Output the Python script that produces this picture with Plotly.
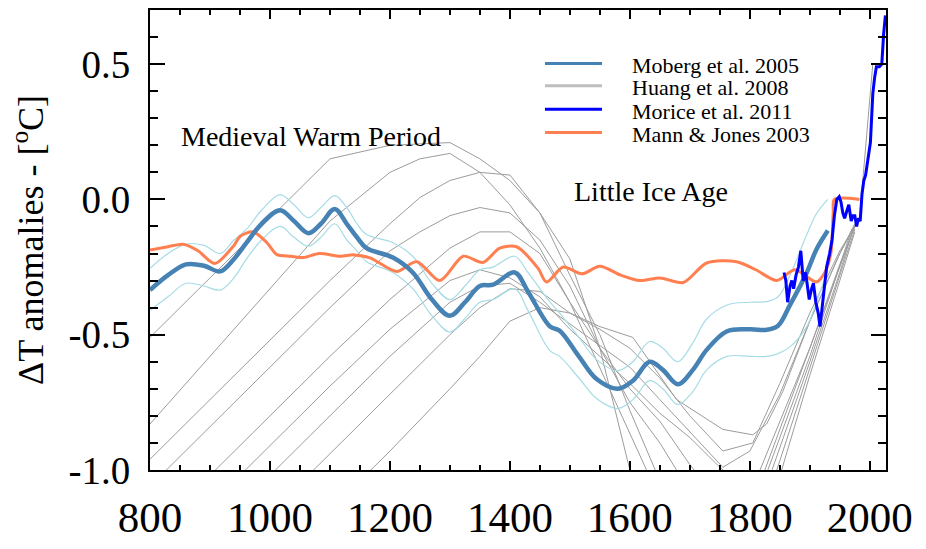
import plotly.graph_objects as go

# ---------------- data ----------------
# Moberg et al. 2005 reconstruction with its upper / lower envelope
moberg_years = [800, 830, 860, 890, 917, 940, 961, 986, 1017, 1040, 1064, 1085, 1108, 1128,
                1145, 1161, 1205, 1238, 1270, 1300, 1325, 1350, 1372, 1408, 1430, 1467, 1483,
                1515, 1545, 1580, 1605, 1633, 1655, 1680, 1705, 1728, 1762, 1800, 1828, 1847,
                1867, 1895, 1911, 1930]
moberg_mean = [-0.335, -0.28, -0.24, -0.245, -0.266, -0.22, -0.16, -0.09, -0.04, -0.08, -0.125,
               -0.09, -0.035, -0.09, -0.14, -0.18, -0.215, -0.27, -0.37, -0.43, -0.38, -0.32,
               -0.315, -0.27, -0.34, -0.47, -0.485, -0.58, -0.665, -0.70, -0.67, -0.60, -0.63,
               -0.683, -0.63, -0.556, -0.487, -0.48, -0.482, -0.467, -0.39, -0.27, -0.185, -0.115]
moberg_upper = [-0.255, -0.20, -0.165, -0.17, -0.20, -0.15, -0.11, -0.04, 0.018, -0.02, -0.068,
                -0.03, 0.014, -0.03, -0.09, -0.13, -0.16, -0.21, -0.31, -0.37, -0.32, -0.26,
                -0.25, -0.21, -0.27, -0.38, -0.42, -0.51, -0.593, -0.633, -0.60, -0.525, -0.55,
                -0.60, -0.53, -0.442, -0.39, -0.38, -0.378, -0.36, -0.28, -0.13, -0.053, 0.0]
moberg_lower = [-0.41, -0.36, -0.31, -0.32, -0.335, -0.29, -0.22, -0.15, -0.10, -0.14, -0.173,
                -0.14, -0.09, -0.15, -0.19, -0.23, -0.27, -0.33, -0.43, -0.49, -0.44, -0.38,
                -0.37, -0.33, -0.41, -0.56, -0.58, -0.66, -0.737, -0.773, -0.74, -0.67, -0.70,
                -0.758, -0.71, -0.63, -0.58, -0.58, -0.58, -0.57, -0.545, -0.47, -0.38, -0.26]

# Mann & Jones 2003
mann_years = [800, 830, 855, 880, 908, 940, 950, 972, 995, 1011, 1035, 1056, 1082, 1117, 1140,
              1167, 1211, 1245, 1283, 1322, 1355, 1383, 1411, 1447, 1461, 1489, 1520, 1550,
              1585, 1617, 1650, 1689, 1728, 1778, 1810, 1845, 1875, 1911, 1925, 1935, 1939,
              1941, 1983]
mann_temp = [-0.187, -0.175, -0.166, -0.19, -0.237, -0.17, -0.137, -0.12, -0.16, -0.203, -0.21,
             -0.215, -0.20, -0.21, -0.205, -0.216, -0.266, -0.23, -0.30, -0.21, -0.233, -0.18,
             -0.175, -0.255, -0.305, -0.25, -0.275, -0.247, -0.28, -0.30, -0.29, -0.307, -0.235,
             -0.23, -0.26, -0.30, -0.26, -0.305, -0.27, -0.20, -0.05, 0.0, 0.0]

# Morice et al. 2011 (instrumental)
morice_years = [1857, 1860, 1863, 1867, 1870, 1873, 1877, 1881, 1885, 1889, 1893, 1899, 1903,
                1906, 1910, 1914, 1917, 1921, 1925, 1928, 1933, 1937, 1941, 1945, 1949, 1952,
                1955, 1958, 1962, 1965, 1969, 1972, 1975, 1978, 1981, 1984, 1987, 1990, 1993,
                1997, 2001, 2003, 2005, 2008, 2011, 2016, 2020, 2023, 2026]
morice_temp = [-0.27, -0.30, -0.38, -0.32, -0.30, -0.33, -0.28, -0.25, -0.19, -0.30, -0.27,
               -0.37, -0.33, -0.31, -0.38, -0.42, -0.47, -0.38, -0.30, -0.25, -0.20, -0.15,
               -0.06, 0.0, 0.01, -0.01, -0.05, -0.07, -0.04, -0.02, -0.08, -0.06, -0.06, -0.10,
               -0.07, -0.08, 0.02, 0.07, 0.09, 0.15, 0.21, 0.30, 0.39, 0.45, 0.49, 0.49, 0.50,
               0.61, 0.68]

# Huang et al. 2008 borehole profiles
huang_years = [
    [800, 900, 1000, 1100, 1200, 1300, 1350, 1400, 1450, 1500, 1550, 1600, 1650, 1700, 1750, 1817, 1900, 1950, 1975],
    [800, 900, 1000, 1100, 1200, 1250, 1300, 1350, 1400, 1450, 1500, 1550, 1600, 1650, 1700, 1750, 1825, 1900, 1950, 1975],
    [800, 900, 1000, 1100, 1200, 1250, 1300, 1350, 1400, 1450, 1500, 1550, 1600, 1650, 1700, 1750, 1830, 1900, 1950, 1970],
    [800, 900, 1000, 1100, 1200, 1250, 1300, 1350, 1400, 1450, 1500, 1550, 1600, 1650, 1700, 1750, 1837, 1900, 1950, 1975],
    [850, 900, 1000, 1100, 1200, 1300, 1350, 1400, 1450, 1500, 1550, 1600, 1650, 1700, 1750, 1800, 1845, 1900, 1950, 1975],
    [900, 1000, 1100, 1200, 1300, 1350, 1400, 1450, 1500, 1550, 1600, 1650, 1700, 1750, 1800, 1853, 1900, 1950, 1975],
    [950, 1000, 1100, 1200, 1300, 1350, 1400, 1450, 1500, 1550, 1600, 1650, 1700, 1755, 1800, 1850, 1900, 1950, 1975],
    [1050, 1100, 1200, 1300, 1350, 1400, 1450, 1500, 1550, 1600, 1650, 1700, 1755, 1805, 1850, 1900, 1950, 1975],
    [1150, 1200, 1300, 1350, 1400, 1450, 1500, 1550, 1605, 1678, 1755, 1805, 1828, 1855, 1900, 1950, 1983, 2005],
]
huang_temps = [
    [-0.51, -0.29, -0.07, 0.15, 0.20, 0.21, 0.15, 0.07, -0.05, -0.22, -0.55, -1.00, -1.35, -1.55, -1.45, -1.00, -0.55, -0.25, -0.10],
    [-0.83, -0.58, -0.33, -0.08, 0.10, 0.15, 0.17, 0.10, -0.02, -0.18, -0.38, -0.62, -0.86, -1.10, -1.35, -1.40, -1.00, -0.55, -0.24, -0.10],
    [-0.96, -0.74, -0.52, -0.30, -0.09, 0.007, 0.07, 0.10, 0.09, -0.05, -0.28, -0.50, -0.78, -1.05, -1.30, -1.35, -1.00, -0.58, -0.25, -0.11],
    [-1.06, -0.84, -0.62, -0.40, -0.19, -0.12, -0.06, -0.03, -0.05, -0.15, -0.32, -0.55, -0.75, -0.90, -1.08, -1.25, -1.00, -0.60, -0.27, -0.09],
    [-1.13, -1.02, -0.80, -0.58, -0.37, -0.18, -0.12, -0.12, -0.20, -0.38, -0.55, -0.70, -0.82, -0.98, -1.12, -1.20, -1.00, -0.62, -0.28, -0.11],
    [-1.13, -0.91, -0.69, -0.48, -0.30, -0.26, -0.29, -0.36, -0.48, -0.58, -0.68, -0.79, -0.88, -0.99, -1.08, -1.00, -0.65, -0.30, -0.12],
    [-1.13, -1.02, -0.80, -0.58, -0.38, -0.32, -0.31, -0.38, -0.46, -0.54, -0.62, -0.74, -0.86, -0.99, -0.93, -0.72, -0.45, -0.20, -0.09],
    [-1.05, -0.94, -0.72, -0.50, -0.40, -0.33, -0.34, -0.42, -0.48, -0.55, -0.66, -0.80, -0.93, -0.90, -0.68, -0.42, -0.19, -0.10],
    [-1.04, -0.93, -0.70, -0.58, -0.45, -0.40, -0.42, -0.47, -0.51, -0.74, -0.85, -0.87, -0.83, -0.71, -0.45, -0.20, -0.065, 0.50],
]

series_names = ["Moberg et al. 2005", "Huang et al. 2008", "Morice et al. 2011", "Mann & Jones 2003"]
series_colors = ["#4682B4", "#BEBEBE", "#0000FF", "#FF7F50"]

y_tick_values = [-1.0, -0.5, 0.0, 0.5]
y_tick_labels = ["-1.0", "-0.5", "0.0", "0.5"]

# ---------------- figure ----------------
SERIF = "Liberation Serif, Times New Roman, serif"
GRAY = "#9C9C9C"
BAND = "#A6DCE6"

fig = go.Figure()

for yrs, vals in zip(huang_years, huang_temps):
    fig.add_trace(go.Scatter(x=yrs, y=vals, mode="lines", showlegend=False,
                             line=dict(color=GRAY, width=1), hoverinfo="skip"))

for band in (moberg_upper, moberg_lower):
    fig.add_trace(go.Scatter(x=moberg_years, y=band, mode="lines", showlegend=False,
                             line=dict(color=BAND, width=1.2, shape="spline", smoothing=1.0)))

fig.add_trace(go.Scatter(x=mann_years, y=mann_temp, mode="lines", name=series_names[3],
                         showlegend=False,
                         line=dict(color=series_colors[3], width=3, shape="spline", smoothing=0.8)))

fig.add_trace(go.Scatter(x=moberg_years, y=moberg_mean, mode="lines", name=series_names[0],
                         showlegend=False,
                         line=dict(color=series_colors[0], width=4.5, shape="spline", smoothing=1.0)))

fig.add_trace(go.Scatter(x=morice_years, y=morice_temp, mode="lines", name=series_names[2],
                         showlegend=False,
                         line=dict(color=series_colors[2], width=3)))

# plot area in pixels, used to lay out the key
L, R, T, B = 150, 40, 8, 68
W, H = 926, 549
pw, ph = W - L - R, H - T - B


def px_x(p):
    return (p - L) / pw


def px_y(p):
    return (H - B - p) / ph


key_rows = [63, 86, 110, 134]
shapes = []
annotations = []
for name, color, row in zip(series_names, series_colors, key_rows):
    shapes.append(dict(type="line", xref="paper", yref="paper",
                       x0=px_x(545), x1=px_x(602), y0=px_y(row), y1=px_y(row),
                       line=dict(color=color, width=3)))
    annotations.append(dict(text=name, xref="paper", yref="paper",
                            x=px_x(630), y=px_y(row + 2), xanchor="left", yanchor="middle",
                            showarrow=False, font=dict(family=SERIF, size=22, color="black")))

annotations.append(dict(text="Medieval Warm Period", x=1069, y=0.232, xref="x", yref="y",
                        showarrow=False, font=dict(family=SERIF, size=28, color="black")))
annotations.append(dict(text="Little Ice Age", x=1636, y=0.03, xref="x", yref="y",
                        showarrow=False, font=dict(family=SERIF, size=28, color="black")))

fig.update_layout(
    width=W, height=H,
    margin=dict(l=L, r=R, t=T, b=B, pad=0),
    paper_bgcolor="white", plot_bgcolor="white",
    showlegend=False,
    shapes=shapes, annotations=annotations,
    font=dict(family=SERIF, color="black"),
)

fig.update_xaxes(
    range=[800, 2027], tickmode="linear", tick0=800, dtick=200,
    ticks="inside", ticklen=9, tickwidth=2, tickcolor="black",
    minor=dict(dtick=50, tick0=800, ticks="inside", ticklen=5, tickwidth=1.5, tickcolor="black"),
    showline=True, linewidth=2, linecolor="black", mirror="allticks",
    showgrid=False, zeroline=False,
    tickfont=dict(family=SERIF, size=43, color="black"), ticklabelstandoff=8,
)

fig.update_yaxes(
    range=[-1.0, 0.7], tickmode="array", tickvals=y_tick_values, ticktext=y_tick_labels,
    ticks="inside", ticklen=15, tickwidth=2, tickcolor="black",
    minor=dict(dtick=0.1, tick0=0, ticks="inside", ticklen=8, tickwidth=1.5, tickcolor="black"),
    showline=True, linewidth=2, linecolor="black", mirror="allticks",
    showgrid=False, zeroline=False,
    tickfont=dict(family=SERIF, size=39, color="black"), ticklabelstandoff=10,
    title=dict(text="ΔT anomalies - [<sup>o</sup>C]", font=dict(family=SERIF, size=36, color="black"),
               standoff=14),
)

fig.write_html("out.html")
